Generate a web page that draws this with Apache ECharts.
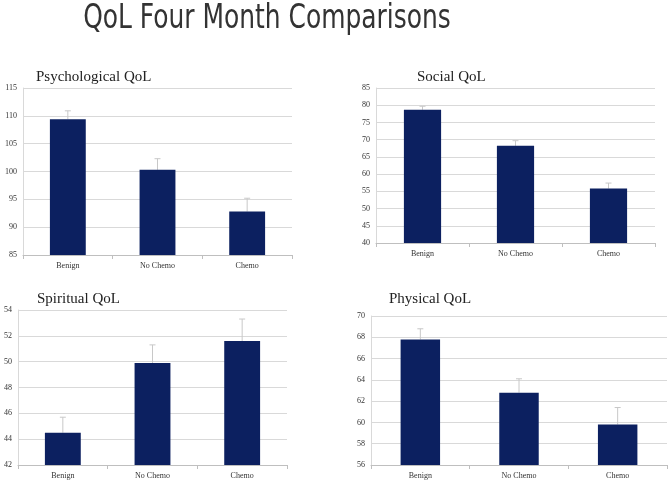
<!DOCTYPE html>
<html>
<head>
<meta charset="utf-8">
<script src="https://cdn.jsdelivr.net/npm/echarts@6/dist/echarts.min.js"></script>
<style>
  html, body {margin: 0; padding: 0; background: #fff;}
  #chart {width: 669px; height: 483px;}
</style>
</head>
<body>
<div id="chart"></div>
<script>
const categories = ['Benign', 'No Chemo', 'Chemo'];

const psychValues = [109.4, 100.3, 92.8];
const psychUpper = [110.9, 102.3, 95.2];
const socialValues = [78.7, 68.2, 55.8];
const socialUpper = [79.7, 69.7, 57.4];
const spiritValues = [44.5, 49.9, 51.6];
const spiritUpper = [45.7, 51.3, 53.3];
const physValues = [67.8, 62.8, 59.8];
const physUpper = [68.8, 64.1, 61.4];

const panels = [
  {name: 'Psychological QoL', values: psychValues, upper: psychUpper, min: 85, max: 115, step: 5,
   grid: {left: 23, right: 377, top: 88, bottom: 228}, titlePos: {left: 31, top: 65}},
  {name: 'Social QoL', values: socialValues, upper: socialUpper, min: 40, max: 85, step: 5,
   grid: {left: 376, right: 14, top: 88, bottom: 240}, titlePos: {left: 412, top: 65}},
  {name: 'Spiritual QoL', values: spiritValues, upper: spiritUpper, min: 42, max: 54, step: 2,
   grid: {left: 18, right: 382, top: 310, bottom: 18}, titlePos: {left: 32, top: 287}},
  {name: 'Physical QoL', values: physValues, upper: physUpper, min: 56, max: 70, step: 2,
   grid: {left: 371, right: 2, top: 316, bottom: 18}, titlePos: {left: 384, top: 287}}
];

const serif = "'Liberation Serif', 'DejaVu Serif', serif";
const barColor = '#0c2060';

const chart = echarts.init(document.getElementById('chart'));

const titles = panels.map(p => ({
  text: p.name, left: p.titlePos.left, top: p.titlePos.top,
  textStyle: {fontFamily: serif, fontSize: 15, fontWeight: 'normal', color: '#222'}
}));

const errorBar = (params, api) => {
  const top = api.coord([api.value(0), api.value(2)]);
  const base = api.coord([api.value(0), api.value(1)]);
  const style = {stroke: '#c8c8c8', lineWidth: 1};
  return {
    type: 'group',
    children: [
      {type: 'line', shape: {x1: top[0], y1: base[1], x2: top[0], y2: top[1]}, style},
      {type: 'line', shape: {x1: top[0] - 3, y1: top[1], x2: top[0] + 3, y2: top[1]}, style}
    ]
  };
};

chart.setOption({
  animation: false,
  title: titles,
  // main heading: condensed look, squeezed horizontally
  graphic: [{
    type: 'text', x: 267, y: 3, scaleX: 0.84,
    style: {
      text: 'QoL Four Month Comparisons',
      font: "normal 33px 'DejaVu Sans Condensed', sans-serif",
      fill: '#333', align: 'center', verticalAlign: 'top'
    }
  }],
  grid: panels.map(p => ({...p.grid})),
  xAxis: panels.map((p, i) => ({
    type: 'category', gridIndex: i, data: categories,
    axisLine: {lineStyle: {color: '#bfbfbf'}},
    axisTick: {show: true, length: 4, lineStyle: {color: '#bfbfbf'}},
    axisLabel: {fontFamily: serif, fontSize: 8, color: '#333', margin: 7}
  })),
  yAxis: panels.map((p, i) => ({
    type: 'value', gridIndex: i, min: p.min, max: p.max, interval: p.step,
    axisLine: {show: true, lineStyle: {color: '#d9d9d9'}},
    axisTick: {show: false},
    splitLine: {lineStyle: {color: '#d9d9d9'}},
    axisLabel: {fontFamily: serif, fontSize: 8, color: '#333', margin: 6}
  })),
  series: panels.flatMap((p, i) => [
    {
      type: 'bar', xAxisIndex: i, yAxisIndex: i, data: p.values,
      barWidth: '40%', itemStyle: {color: barColor}
    },
    {
      type: 'custom', xAxisIndex: i, yAxisIndex: i, z: 1,
      renderItem: errorBar,
      data: p.values.map((v, j) => [j, v, p.upper[j]])
    }
  ])
});
</script>
</body>
</html>
